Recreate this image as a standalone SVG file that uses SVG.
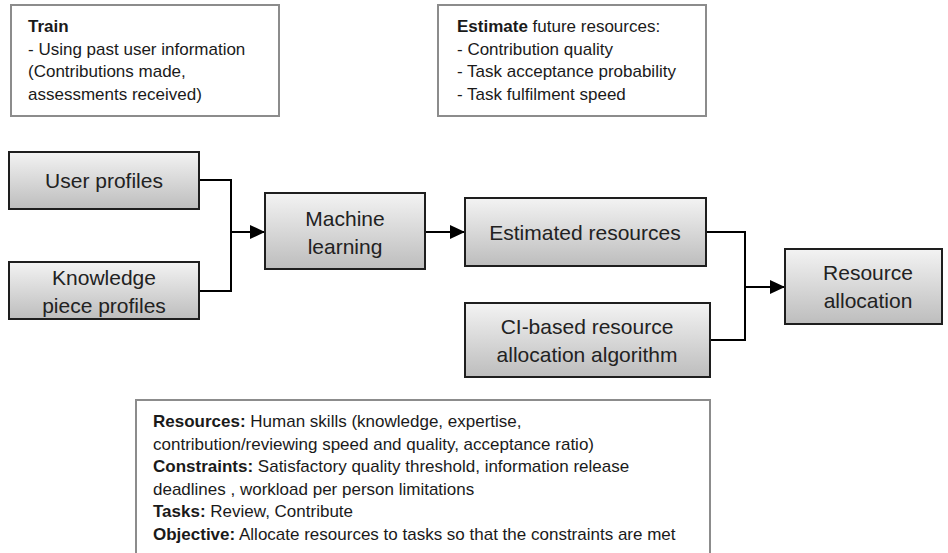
<svg xmlns="http://www.w3.org/2000/svg" width="948" height="553" viewBox="0 0 948 553">
  <defs>
    <linearGradient id="nodeFill" x1="0" y1="0" x2="0" y2="1">
      <stop offset="0" stop-color="#f3f3f3"/>
      <stop offset="1" stop-color="#bdbdbd"/>
    </linearGradient>
    <marker id="arrow" viewBox="0 0 15 14" refX="15" refY="7" markerWidth="15" markerHeight="14" markerUnits="userSpaceOnUse" orient="auto">
      <path d="M0,0 L15,7 L0,14 Z" fill="#000"/>
    </marker>
    <style>
      .note { fill: #fff; stroke: #8c8c8c; stroke-width: 2; }
      .node { fill: url(#nodeFill); stroke: #1e1e1e; stroke-width: 2; }
      .small { font-family: "Liberation Sans", Arial, sans-serif; font-size: 17px; fill: #1a1a1a; }
      .big { font-family: "Liberation Sans", Arial, sans-serif; font-size: 21px; fill: #222; text-anchor: middle; }
      .b { font-weight: bold; }
      .wire { fill: none; stroke: #000; stroke-width: 2; }
    </style>
  </defs>

  <rect width="948" height="553" fill="#fff"/>

  <!-- annotation: training -->
  <g id="note-train">
    <rect class="note" x="11" y="5" width="268" height="111"/>
    <text class="small" x="28" y="32"><tspan class="b">Train</tspan></text>
    <text class="small" x="28" y="55">- Using past user information</text>
    <text class="small" x="28" y="77">(Contributions made,</text>
    <text class="small" x="28" y="100">assessments received)</text>
  </g>

  <!-- annotation: estimation -->
  <g id="note-estimate">
    <rect class="note" x="438" y="5" width="268" height="111"/>
    <text class="small" x="457" y="32"><tspan class="b">Estimate</tspan> future resources:</text>
    <text class="small" x="457" y="55">- Contribution quality</text>
    <text class="small" x="457" y="77">- Task acceptance probability</text>
    <text class="small" x="457" y="100">- Task fulfilment speed</text>
  </g>

  <!-- connectors -->
  <g id="connectors">
    <path class="wire" d="M199,180 H231 V291 H199"/>
    <path class="wire" d="M231,232 H265" marker-end="url(#arrow)"/>
    <path class="wire" d="M425,232 H465" marker-end="url(#arrow)"/>
    <path class="wire" d="M706,232 H745 V340 H710"/>
    <path class="wire" d="M745,287 H785" marker-end="url(#arrow)"/>
  </g>

  <g id="user-profiles">
    <rect class="node" x="9" y="152" width="190" height="57"/>
    <text class="big" x="104" y="188">User profiles</text>
  </g>

  <g id="knowledge-piece-profiles">
    <rect class="node" x="9" y="262" width="190" height="57"/>
    <text class="big" x="104" y="285">Knowledge</text>
    <text class="big" x="104" y="313">piece profiles</text>
  </g>

  <g id="machine-learning">
    <rect class="node" x="265" y="193" width="160" height="76"/>
    <text class="big" x="345" y="226">Machine</text>
    <text class="big" x="345" y="254">learning</text>
  </g>

  <g id="estimated-resources">
    <rect class="node" x="465" y="198" width="241" height="68"/>
    <text class="big" x="585" y="240">Estimated resources</text>
  </g>

  <g id="ci-algorithm">
    <rect class="node" x="465" y="303" width="245" height="74"/>
    <text class="big" x="587" y="334">CI-based resource</text>
    <text class="big" x="587" y="362">allocation algorithm</text>
  </g>

  <g id="resource-allocation">
    <rect class="node" x="785" y="249" width="157" height="75"/>
    <text class="big" x="868" y="280">Resource</text>
    <text class="big" x="868" y="308">allocation</text>
  </g>

  <!-- annotation: allocation problem -->
  <g id="note-problem">
    <rect class="note" x="136" y="400" width="574" height="170"/>
    <text class="small" x="153" y="427"><tspan class="b">Resources:</tspan> Human skills (knowledge, expertise,</text>
    <text class="small" x="153" y="450">contribution/reviewing speed and quality, acceptance ratio)</text>
    <text class="small" x="153" y="472"><tspan class="b">Constraints:</tspan> Satisfactory quality threshold, information release</text>
    <text class="small" x="153" y="495">deadlines , workload per person limitations</text>
    <text class="small" x="153" y="517"><tspan class="b">Tasks:</tspan> Review, Contribute</text>
    <text class="small" x="153" y="540"><tspan class="b">Objective:</tspan> Allocate resources to tasks so that the constraints are met</text>
  </g>
</svg>
